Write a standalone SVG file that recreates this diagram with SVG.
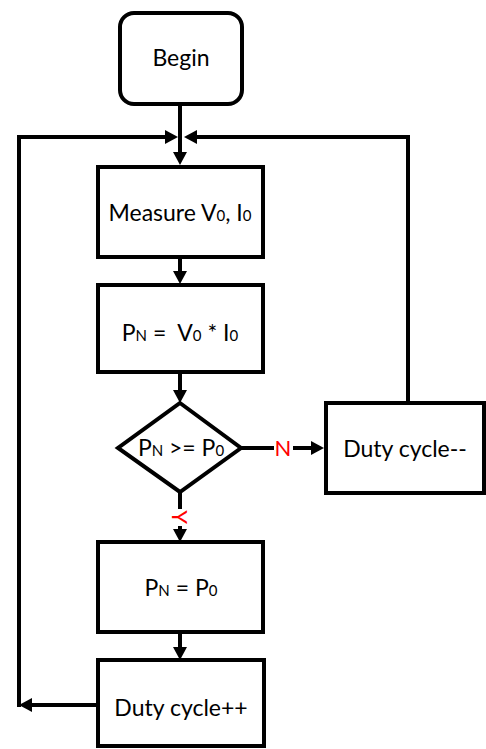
<svg xmlns="http://www.w3.org/2000/svg" width="486" height="749" viewBox="0 0 486 749">
<style>
.box{fill:#fff;stroke:#000;stroke-width:4}
.t{font-family:Lato,"Liberation Sans",sans-serif;font-size:23px;fill:#000;text-anchor:middle}
.s{font-size:15px}
.c{fill:none;stroke:#000;stroke-width:4}
.lbl{font-family:Lato,"Liberation Sans",sans-serif;font-size:22px;fill:#ff0000;text-anchor:middle}
</style>
<defs>
<marker id="ah" markerUnits="userSpaceOnUse" markerWidth="14" markerHeight="16" refX="0" refY="7" orient="auto" viewBox="0 0 14 14">
<path d="M0,0 L13,7 L0,14 z" fill="#000"/>
</marker>
</defs>
<rect width="486" height="749" fill="#fff"/>
<g id="connectors">
<path class="c" d="M180,104 V152" marker-end="url(#ah)"/>
<path class="c" d="M99,705 H32" marker-end="url(#ah)"/>
<path class="c" d="M19,707 V137 H165" marker-end="url(#ah)"/>
<path class="c" d="M408,403 V137 H197" marker-end="url(#ah)"/>
<path class="c" d="M180,257 V271" marker-end="url(#ah)"/>
<path class="c" d="M180,372 V390" marker-end="url(#ah)"/>
<path class="c" d="M241,448 H274"/>
<path class="c" d="M293,448 H311" marker-end="url(#ah)"/>
<path class="c" d="M180,492 V509"/>
<path class="c" d="M180,526 V529" marker-end="url(#ah)"/>
<path class="c" d="M180,632 V647" marker-end="url(#ah)"/>
<text class="lbl" x="283" y="456">N</text>
<text class="lbl" x="0" y="0" transform="translate(180,517) rotate(90)" dy="8">Y</text>
</g>
<g id="begin">
<rect class="box" x="120" y="13" width="122" height="91" rx="14"/>
<text class="t" x="181" y="66">Begin</text>
</g>
<g id="measure">
<rect class="box" x="98" y="167" width="165" height="90"/>
<text class="t" x="180" y="221">Measure V<tspan class="s">0</tspan>, I<tspan class="s">0</tspan></text>
</g>
<g id="power">
<rect class="box" x="98" y="285" width="165" height="87"/>
<text class="t" x="180" y="341" xml:space="preserve">P<tspan class="s">N</tspan> =  V<tspan class="s">0</tspan> * I<tspan class="s">0</tspan></text>
</g>
<g id="decision">
<polygon class="box" points="180,403 241,448 180,492 118,448"/>
<text class="t" x="181" y="456">P<tspan class="s">N</tspan> &gt;= P<tspan class="s">0</tspan></text>
</g>
<g id="dutydown">
<rect class="box" x="326" y="403" width="158" height="90"/>
<text class="t" x="405" y="457">Duty cycle--</text>
</g>
<g id="assign">
<rect class="box" x="98" y="542" width="165" height="90"/>
<text class="t" x="181" y="596">P<tspan class="s">N</tspan> = P<tspan class="s">0</tspan></text>
</g>
<g id="dutyup">
<rect class="box" x="98" y="660" width="166" height="86"/>
<text class="t" x="181" y="716">Duty cycle++</text>
</g>
</svg>
